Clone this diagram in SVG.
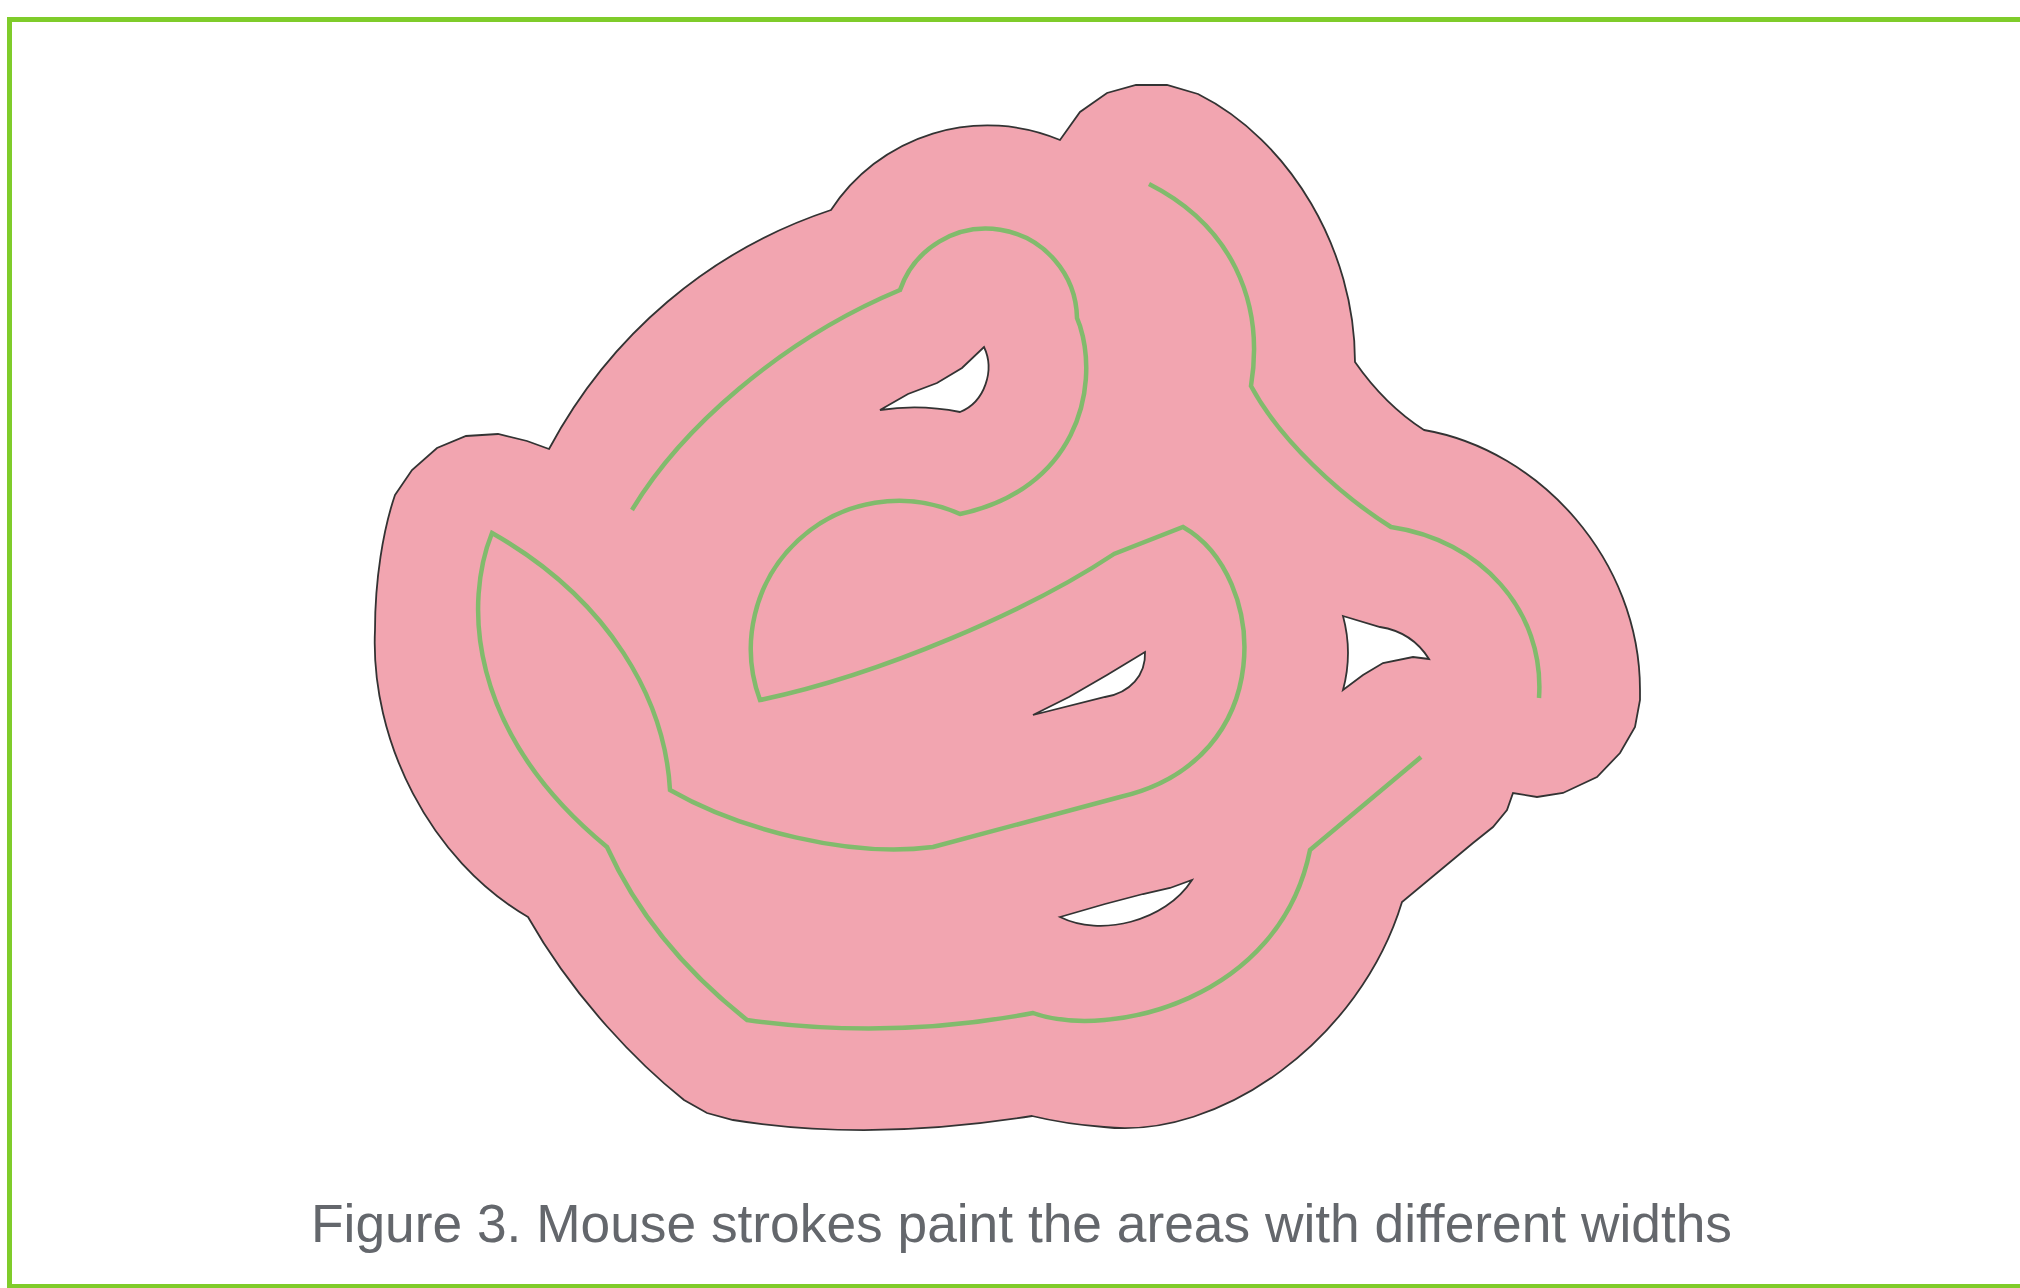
<svg xmlns="http://www.w3.org/2000/svg" width="2020" height="1288" viewBox="0 0 2020 1288">
<style>
.area{fill:#f2a5b0;stroke:#333;stroke-width:1.8;stroke-linejoin:miter}
.hole{fill:#fff;stroke:#333;stroke-width:1.8}
.stroke{fill:none;stroke:#81bb6c;stroke-width:4.5;stroke-linejoin:miter}
.caption{font-family:"Liberation Sans",Arial,sans-serif;font-size:53.3px;fill:#64676c}
</style>
<rect x="9.5" y="19.5" width="2040" height="1267" fill="#fff" stroke="#7fcc2a" stroke-width="5"/>
<g id="painted-area">
<path class="area" fill-rule="evenodd" d="M395 495 L412 470 L437 448 L466 436 L498 434 L527 441 L549 449 C610 335 710 250 831 210 A187 187 0 0 1 1060 140 L1080 112 L1107 93 L1136 85 L1167 85 L1198 94 C1290 140 1355 250 1355 362 Q1385 405 1424 430 C1540 450 1640 560 1640 690 L1640 700 L1635 727 L1620 753 L1597 777 L1563 793 L1537 797 L1513 793 L1507 810 L1493 827 L1473 843 L1402 902 C1360 1040 1220 1140 1104 1127 Q1065 1124 1032 1116 Q870 1142 733 1120 L707 1113 L684 1100 C640 1065 575 1000 528 917 C430 860 370 740 375 630 C375 580 383 530 395 495 Z"/>
</g>
<g id="holes">
<path class="hole" d="M880 410 L908 394 L937 383 L962 368 L984 347 C995 370 985 402 960 412 Q920 404 880 410 Z"/>
<path class="hole" d="M1033 715 L1069 697 L1107 675 L1145 652 C1146 675 1130 693 1105 697 L1033 715 Z"/>
<path class="hole" d="M1343 616 L1380 627 Q1412 632 1429 659 L1413 657 L1383 663 L1363 675 L1343 690 Q1353 653 1343 616 Z"/>
<path class="hole" d="M1060 917 L1105 904 L1143 894 L1170 888 L1192 880 C1165 922 1100 937 1060 917 Z"/>
</g>
<g id="mouse-strokes">
<path class="stroke" d="M632 510 C680 430 780 340 900 290 A91 91 0 0 1 1077 318 L1080 326 C1100 390 1075 490 960 514 A148 148 0 0 0 760 700 C880 675 1030 610 1114 554 L1183 527 C1268 575 1280 760 1120 797 L933 847 C850 858 740 830 670 790 C665 700 610 600 492 533 C465 600 465 730 607 847 C640 920 690 975 747 1020 Q890 1040 1033 1013 C1110 1040 1280 1000 1310 850 L1421 757"/>
<path class="stroke" d="M1149 184 C1230 225 1265 300 1251 386 C1280 440 1340 495 1391 527 C1480 540 1545 610 1539 698"/>
</g>
<text class="caption" x="311" y="1242">Figure 3. Mouse strokes paint the areas with different widths</text>
</svg>
